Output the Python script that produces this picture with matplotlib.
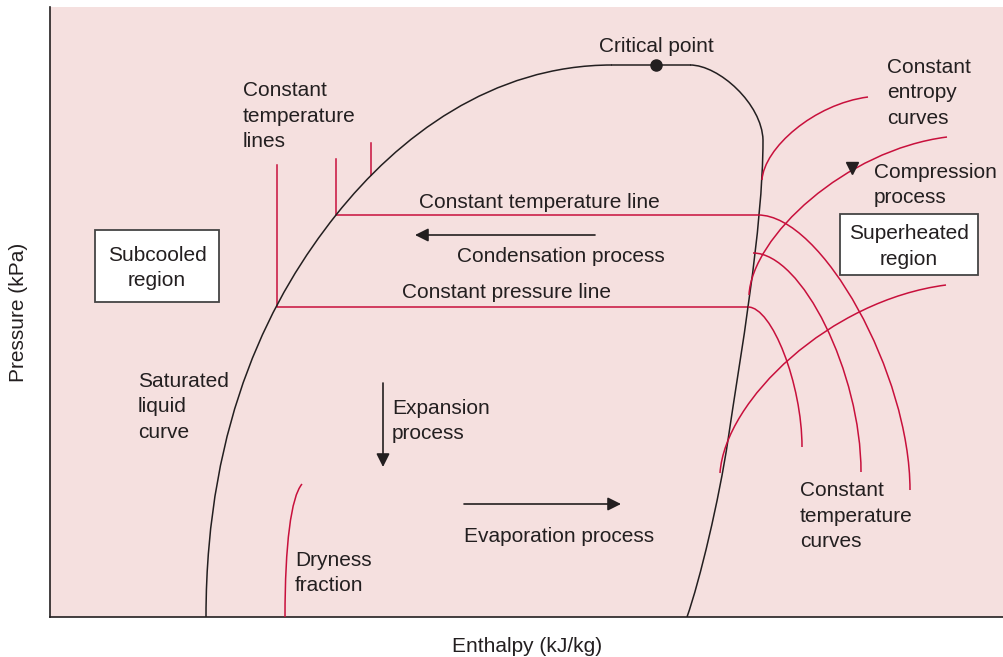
import numpy as np
import matplotlib.pyplot as plt
from matplotlib.path import Path
from matplotlib.patches import PathPatch, Rectangle

plt.rcParams['font.family'] = ['Liberation Sans', 'DejaVu Sans']

BG = '#f5e0df'
RED = '#c8103c'
INK = '#231f20'

# saturation dome as cubic bezier nodes: start, then (c1, c2, end) triples
liquid_curve = [(206, 617), (206, 417), (274, 293), (336, 215),
                (398, 137), (492, 65), (612, 65)]
dome_top = [(612, 65), (690, 65)]
vapour_curve = [(690, 65), (719, 65), (762, 104), (763, 140),
                (763, 230), (740, 358), (728, 440),
                (719, 500), (700, 580), (687, 617)]
critical_point = (656, 65)

# constant temperature lines: straight part, then bend into the vapour region
pressure_line = [(277, 165), (277, 307), (748, 307)]
pressure_bend = [(748, 307), (772, 307), (802, 384), (802, 447)]
temp_line = [(336, 159), (336, 215), (758, 215)]
temp_bend = [(758, 215), (822, 215), (910, 374), (910, 490)]
temp_stub = [(371, 143), (371, 175)]
temp_curve_mid = [(753, 253), (802, 253), (861, 373), (861, 472)]

# constant entropy curves
entropy_curves = [
    [(762, 180), (764, 148), (814, 104), (868, 97)],
    [(749, 295), (752, 237), (845, 150), (947, 137)],
    [(720, 473), (725, 400), (830, 300), (946, 285)],
]
compression_mark = (852, 168)

dryness_curve = [(285, 617), (285, 545), (291, 497), (302, 484)]

# process arrows (tail, head)
arrows = [
    ((595, 235), (415, 235)),   # condensation
    ((383, 383), (383, 467)),   # expansion
    ((464, 504), (621, 504)),   # evaporation
]

labels = [
    ("Critical point", 656, 46, 'center'),
    ("Constant\ntemperature\nlines", 243, 116, 'left'),
    ("Constant\nentropy\ncurves", 887, 93, 'left'),
    ("Compression\nprocess", 874, 185, 'left'),
    ("Constant temperature line", 419, 203, 'left'),
    ("Condensation process", 457, 256, 'left'),
    ("Constant pressure line", 402, 293, 'left'),
    ("Saturated\nliquid\ncurve", 138, 407, 'left'),
    ("Expansion\nprocess", 392, 421, 'left'),
    ("Evaporation process", 464, 536, 'left'),
    ("Dryness\nfraction", 295, 573, 'left'),
    ("Constant\ntemperature\ncurves", 800, 516, 'left'),
]

region_names = ["Subcooled\nregion", "Superheated\nregion"]
region_boxes = [(95, 230, 219, 302), (840, 214, 978, 275)]

FS = 15
LS = 1.45


def bezier(nodes):
    codes = [Path.MOVETO] + [Path.CURVE4] * (len(nodes) - 1)
    return Path(nodes, codes)


def draw_bezier(ax, nodes, color):
    ax.add_patch(PathPatch(bezier(nodes), fc='none', ec=color, lw=1.1,
                           capstyle='butt', zorder=3))


fig = plt.figure(figsize=(10.04, 6.57), dpi=100)
ax = fig.add_axes([50 / 1004, 40 / 657, 954 / 1004, 610 / 657])
ax.set_facecolor(BG)
ax.set_xlim(50, 1004)
ax.set_ylim(617, 7)
ax.set_xticks([])
ax.set_yticks([])
for side in ['top', 'right']:
    ax.spines[side].set_visible(False)
for side in ['left', 'bottom']:
    ax.spines[side].set_color(INK)
    ax.spines[side].set_linewidth(1.2)

# dome
draw_bezier(ax, liquid_curve, INK)
draw_bezier(ax, vapour_curve, INK)
ax.plot(*zip(*dome_top), color=INK, lw=1.1, zorder=3)
ax.plot(*critical_point, 'o', color=INK, ms=8, zorder=4)

# red property lines
for line in [pressure_line, temp_line, temp_stub]:
    ax.plot(*zip(*line), color=RED, lw=1.1, zorder=2)
for nodes in [pressure_bend, temp_bend, temp_curve_mid, dryness_curve]:
    draw_bezier(ax, nodes, RED)
for nodes in entropy_curves:
    draw_bezier(ax, nodes, RED)
ax.plot(*compression_mark, 'v', color=INK, ms=9, zorder=4)

for tail, head in arrows:
    ax.annotate('', xy=head, xytext=tail,
                arrowprops=dict(arrowstyle='-|>', color=INK, lw=1.2,
                                mutation_scale=20, shrinkA=0, shrinkB=0))

for text, x, y, ha in labels:
    ax.text(x, y, text, ha=ha, va='center', fontsize=FS, color=INK,
            linespacing=LS)

for name, (x0, y0, x1, y1) in zip(region_names, region_boxes):
    ax.add_patch(Rectangle((x0, y0), x1 - x0, y1 - y0, fc='white',
                           ec='#444444', lw=1.3, zorder=5))
    ax.text((x0 + x1) / 2, (y0 + y1) / 2 + 2, name, ha='center', va='center',
            fontsize=FS, color=INK, linespacing=LS, zorder=6)

fig.text(527 / 1004, 1 - 647 / 657, "Enthalpy (kJ/kg)", ha='center',
         va='center', fontsize=FS, color=INK)
fig.text(19 / 1004, 1 - 312 / 657, "Pressure (kPa)", ha='center',
         va='center', rotation=90, fontsize=FS, color=INK)

fig.savefig('out.png', dpi=100, facecolor='white')
